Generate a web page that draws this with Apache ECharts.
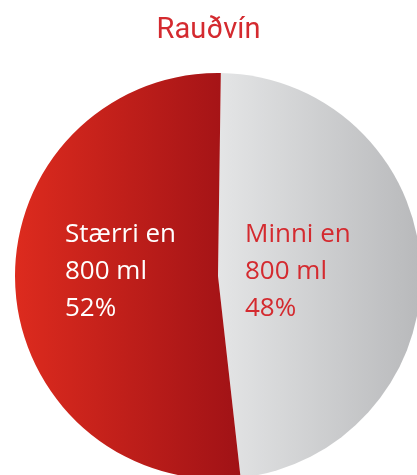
<!DOCTYPE html>
<html><head><meta charset="utf-8">
<script src="https://cdn.jsdelivr.net/npm/echarts@6/dist/echarts.min.js"></script>
<style>html,body{margin:0;padding:0;background:#fff}#c{width:417px;height:475px}</style>
</head><body><div id="c"></div>
<script>
var title = 'Rauðvín';
var categories = ['Minni en\n800 ml', 'Stærri en\n800 ml'];
var values = [48, 52];
var labelColors = ['#d42a2f', '#ffffff'];
var sliceGradients = [['#e4e5e6', '#b8b9bb'], ['#dd2b1e', '#a01216']];
var labelPos = [[245, 223], [65, 223]];

var chart = echarts.init(document.getElementById('c'), null, {renderer: 'canvas'});
chart.setOption({
  animation: false,
  title: {text: title, left: 'center', top: 11, textStyle: {color: '#d42a2f', fontFamily: 'Roboto', fontWeight: 'normal', fontSize: 29}},
  series: [{
    type: 'pie',
    center: [218, 276],
    radius: [0, 203],
    startAngle: 89.2,
    clockwise: true,
    silent: true,
    data: categories.map(function (c, i) {
      return {
        name: c, value: values[i],
        itemStyle: {color: new echarts.graphic.LinearGradient(0, 0, 1, 0, [{offset: 0, color: sliceGradients[i][0]}, {offset: 1, color: sliceGradients[i][1]}])},
        label: {color: labelColors[i]}
      };
    }),
    label: {
      position: 'inside', formatter: '{b}\n{c}%', fontFamily: 'Open Sans', fontSize: 26, lineHeight: 37, align: 'left'
    },
    labelLayout: function (p) {
      return {x: labelPos[p.dataIndex][0], y: labelPos[p.dataIndex][1] - 7, align: 'left', verticalAlign: 'top'};
    },
    labelLine: {show: false}
  }]
});
</script></body></html>
